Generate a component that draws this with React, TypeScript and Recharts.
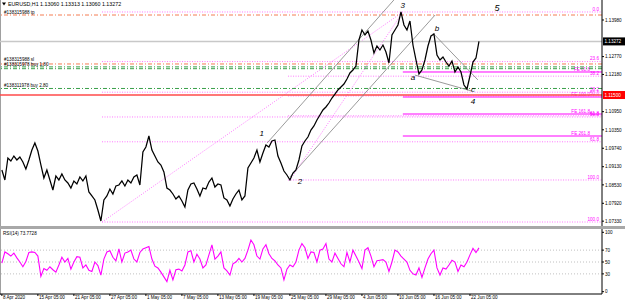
import React from 'react';
import { ComposedChart, LineChart, Line, XAxis, YAxis, ReferenceLine, ReferenceDot } from 'recharts';

// EURUSD H1, one close every 8 bars, starting 8 Apr 2020
const BAR_STEP = 8;

const closePrices = [
  1.09021, 1.08691, 1.09418, 1.09319, 1.09484, 1.09352, 1.09451, 1.09286, 1.09054, 1.09352,
  1.09682, 1.09914, 1.09649, 1.09187, 1.08757, 1.09021, 1.08691, 1.08360, 1.08823, 1.08691,
  1.08889, 1.08691, 1.08592, 1.08426, 1.08658, 1.08559, 1.08790, 1.08658, 1.08823, 1.08294,
  1.08162, 1.08030, 1.07699, 1.07335, 1.08030, 1.08162, 1.08393, 1.08228, 1.08493, 1.08526,
  1.08658, 1.08493, 1.08691, 1.08592, 1.08790, 1.08856, 1.08526, 1.09616, 1.09782, 1.10145,
  1.09682, 1.09484, 1.09286, 1.09187, 1.08955, 1.08426, 1.08360, 1.08228, 1.08063, 1.08162,
  1.07997, 1.07798, 1.08360, 1.08559, 1.08592, 1.08393, 1.08162, 1.08426, 1.08393, 1.08624,
  1.08757, 1.08460, 1.08559, 1.08526, 1.08096, 1.08030, 1.07831, 1.08063, 1.08228, 1.08360,
  1.08030, 1.08162, 1.09087, 1.09253, 1.09418, 1.09682, 1.09286, 1.09583, 1.09848, 1.09782,
  1.09980, 1.10013, 1.09484, 1.09253, 1.08988, 1.08856, 1.08691, 1.08922, 1.09021, 1.09352,
  1.09815, 1.09980, 1.10112, 1.10343, 1.10476, 1.10674, 1.10839, 1.11005, 1.11104, 1.11236,
  1.11401, 1.11533, 1.11666, 1.11765, 1.11864, 1.12030, 1.12228, 1.12327, 1.12459, 1.13319,
  1.13649, 1.13484, 1.13616, 1.13319, 1.12889, 1.13120, 1.12988, 1.13153, 1.12922, 1.12558,
  1.13484, 1.13649, 1.13815, 1.14245, 1.13815, 1.13649, 1.13947, 1.13153, 1.12658, 1.12195,
  1.12327, 1.12658, 1.13120, 1.13451, 1.13517, 1.12823, 1.12658, 1.12757, 1.12591, 1.12459,
  1.12625, 1.12261, 1.12426, 1.12261, 1.11831, 1.11699, 1.12129, 1.12591, 1.12724, 1.13272,
];

const rsiValues = [
  48, 67, 64, 60, 65, 57, 50, 42, 51, 66,
  67, 66, 60, 26, 39, 36, 42, 37, 33, 45,
  58, 50, 56, 38, 50, 59, 58, 40, 45, 36,
  34, 50, 44, 28, 55, 67, 69, 58, 52, 72,
  50, 65, 67, 70, 55, 50, 66, 72, 74, 76,
  55, 43, 40, 33, 25, 17, 36, 20, 37, 38,
  35, 45, 67, 69, 50, 63, 55, 40, 45, 62,
  79, 55, 60, 67, 40, 35, 28, 47, 50, 56,
  50, 56, 70, 87, 79, 60, 55, 72, 79, 64,
  56, 52, 45, 40, 20, 38, 45, 42, 50, 70,
  81, 74, 56, 67, 66, 50, 70, 72, 81, 55,
  50, 65, 56, 47, 42, 66, 50, 70, 60, 50,
  39, 70, 74, 60, 42, 52, 53, 54, 50, 34,
  50, 70, 67, 60, 55, 50, 36, 30, 28, 40,
  24, 40, 55, 64, 70, 40, 28, 40, 38, 45,
  53, 50, 34, 45, 42, 50, 62, 73, 66, 73.7728,
];

const dateBars = [0, 96, 192, 288, 384, 480, 576, 672, 768, 864, 960, 1056, 1152, 1248];
const dateLabels = [
  '8 Apr 2020', '15 Apr 05:00', '21 Apr 05:00', '27 Apr 05:00', '1 May 05:00', '7 May 05:00',
  '13 May 05:00', '19 May 05:00', '25 May 05:00', '29 May 05:00', '4 Jun 05:00', '10 Jun 05:00',
  '16 Jun 05:00', '22 Jun 05:00',
];

const priceTicks = [1.0733, 1.0792, 1.0853, 1.0913, 1.0974, 1.1035, 1.1095, 1.1218, 1.1277, 1.1398];
const rsiTicks = [0, 30, 50, 70, 100];
const rsiLevels = [30, 50, 70];

// trade lines
const bidPrice = 1.13272;
const stopPrice = 1.115;
const tpSlPrices = [1.14145, 1.12526];
const tpSlNames = ['#138315988 tp', '#138315988 sl'];
const buyPrices = [1.1243, 1.1237, 1.11716];
const buyNames = ['#138315978 buy 1.80', '', '#138311978 buy 2.80'];

// fibo retracement from 24 Apr low, and from wave 2
const fibAStart = 267;
const fibAPrices = [1.14245, 1.12606, 1.11593, 1.10774, 1.09954, 1.07302];
const fibANames = ['0.0', '23.6', '38.2', '50.0', '61.8', '100.0'];
const fibBStart = 763;
const fibBPrices = [1.12123, 1.11468, 1.10813, 1.08691];
const fibBNames = ['38.2', '50.0', '61.8', '100.0'];

// fibo expansion from wave 3 top
const feStart = 1069;
const fePrices = [1.12261, 1.11434, 1.10872, 1.10145];
const feNames = ['FE 61.8', 'FE 100.0', 'FE 161.8', 'FE 261.8'];

// trend lines [bar1, price1, bar2, price2]
const channelLines = [
  [707, 1.0991, 1045, 1.1464],
  [768, 1.0879, 1155, 1.14145],
  [1149, 1.1355, 1269, 1.12],
  [1101, 1.1216, 1253, 1.1163],
];
const fiboDiagonals = [
  [267, 1.0730, 1069, 1.14245],
  [768, 1.0869, 1069, 1.14245],
];

const waveNames = ['1', '2', '3', '4', '5', 'a', 'b', 'c'];
const waveBars = [693, 795, 1069, 1256, 1320, 1096, 1160, 1256];
const wavePrices = [1.10244, 1.08657, 1.14476, 1.11302, 1.14377, 1.12096, 1.13715, 1.11699];

const BAR_END = 1600;
const FONT = '"Liberation Sans", Arial, sans-serif';
const SMALL = 4.6;
const PINK = '#ff00ff';
const PINK_DOT = '#ff55ff';

const chartData = closePrices.map((c, i) => ({ bar: i * BAR_STEP, close: c, rsi: rsiValues[i] }));

const LineTag = ({ viewBox, text, side, color, inset = 6, lift = 1.2 }: any) => {
  if (!viewBox || !text) return null;
  const left = side === 'left';
  const x = left ? viewBox.x + inset : viewBox.x + viewBox.width - inset;
  return (
    <text x={x} y={viewBox.y - lift} fontSize={SMALL} fill={color} fontFamily={FONT}
      textAnchor={left ? 'start' : 'end'}>
      {text}
    </text>
  );
};

const PriceBox = ({ viewBox, text, bg }: any) => {
  if (!viewBox) return null;
  const x = viewBox.x + viewBox.width + 1;
  return (
    <g>
      <rect x={x} y={viewBox.y - 4} width={22} height={8} fill={bg} />
      <text x={x + 1.5} y={viewBox.y + 1.7} fontSize={SMALL} fill="#fff" fontFamily={FONT}>{text}</text>
    </g>
  );
};

const DateTick = ({ x, y, payload }: any) => {
  const idx = dateBars.indexOf(payload.value);
  return (
    <text x={x + 1} y={y + 3.2} fontSize={SMALL} fill="#000" fontFamily={FONT}>
      {dateLabels[idx]}
    </text>
  );
};

const RightTick = ({ x, y, payload, digits }: any) => (
  <text x={x} y={y + 1.7} fontSize={SMALL} fill="#000" fontFamily={FONT}>
    {digits ? payload.value.toFixed(digits) : payload.value}
  </text>
);

export default function App() {
  return (
    <div style={{ position: 'absolute', left: 0, top: 0, width: 625, height: 304, background: '#fff', overflow: 'hidden' }}>
      <div style={{ position: 'absolute', left: 0, top: 0, width: 1, height: 295, background: '#a0a0a0' }} />
      <div style={{ position: 'absolute', left: 0, top: 0 }}>
        <ComposedChart width={625} height={226} data={chartData} margin={{ top: 0, right: 0, bottom: 0, left: 0 }}>
          <XAxis type="number" dataKey="bar" domain={[-5, BAR_END]} allowDataOverflow hide />
          <YAxis orientation="right" width={23} type="number" domain={[1.0717, 1.14641]} allowDataOverflow
            ticks={priceTicks} interval={0} tickSize={2} tickMargin={1}
            axisLine={{ stroke: '#000' }} tickLine={{ stroke: '#000' }}
            tick={<RightTick digits={5} />} />

          {fibAPrices.map((p, i) => (
            <ReferenceLine key={`fa${i}`} segment={[{ x: fibAStart, y: p }, { x: BAR_END, y: p }]}
              stroke={PINK_DOT} strokeDasharray="1 1.5" strokeWidth={0.8}
              label={<LineTag text={fibANames[i]} side="right" color={PINK} inset={3} />} />
          ))}
          {fibBPrices.map((p, i) => (
            <ReferenceLine key={`fb${i}`} segment={[{ x: fibBStart, y: p }, { x: BAR_END, y: p }]}
              stroke={PINK_DOT} strokeDasharray="1 1.5" strokeWidth={0.8}
              label={<LineTag text={fibBNames[i]} side="right" color={PINK} inset={3} />} />
          ))}
          {fePrices.map((p, i) => (
            <ReferenceLine key={`fe${i}`} segment={[{ x: feStart, y: p }, { x: BAR_END, y: p }]}
              stroke={PINK} strokeWidth={1}
              label={<LineTag text={feNames[i]} side="right" color={PINK} inset={12} />} />
          ))}
          {fiboDiagonals.map((l, i) => (
            <ReferenceLine key={`fd${i}`} segment={[{ x: l[0], y: l[1] }, { x: l[2], y: l[3] }]}
              stroke={PINK_DOT} strokeDasharray="1 1.5" strokeWidth={0.8} />
          ))}

          <ReferenceLine y={bidPrice} stroke="#c8c8c8" strokeWidth={1.5}
            label={<PriceBox text={bidPrice.toFixed(5)} bg="#000" />} />
          {tpSlPrices.map((p, i) => (
            <ReferenceLine key={`ts${i}`} y={p} stroke="#f47c52" strokeDasharray="4 2 1 2" strokeWidth={1}
              label={<LineTag text={tpSlNames[i]} side="left" color="#000" inset={4} lift={i === 1 ? 3.2 : 1.2} />} />
          ))}
          {buyPrices.map((p, i) => (
            <ReferenceLine key={`b${i}`} y={p} stroke="#3aa04a" strokeDasharray="4 2 1 2" strokeWidth={1}
              label={<LineTag text={buyNames[i]} side="left" color="#000" inset={4} lift={i === 0 ? 0.6 : 1.2} />} />
          ))}
          <ReferenceLine y={stopPrice} stroke="#ff4a4a" strokeWidth={1.5}
            label={<PriceBox text={stopPrice.toFixed(5)} bg="#ff0000" />} />

          {channelLines.map((l, i) => (
            <ReferenceLine key={`ch${i}`} segment={[{ x: l[0], y: l[1] }, { x: l[2], y: l[3] }]}
              stroke="#808080" strokeWidth={0.8} />
          ))}

          <Line type="linear" dataKey="close" stroke="#000" strokeWidth={1.25} dot={false} isAnimationActive={false} />

          {waveNames.map((n, i) => (
            <ReferenceDot key={`w${i}`} x={waveBars[i]} y={wavePrices[i]} r={0}
              shape={(p: any) => (
                <text x={p.cx} y={p.cy + 3} fontSize={i === 4 ? 9 : 8} fontStyle="italic" fill="#000"
                  fontFamily={FONT} textAnchor="middle">{n}</text>
              )} />
          ))}
        </ComposedChart>
      </div>

      <div style={{ position: 'absolute', left: 0, top: 226, width: 625, height: 3, background: '#a8a8a8' }} />

      <div style={{ position: 'absolute', left: 0, top: 229 }}>
        <LineChart width={625} height={75} data={chartData} margin={{ top: 0, right: 0, bottom: 0, left: 0 }}>
          <XAxis type="number" dataKey="bar" domain={[-5, BAR_END]} allowDataOverflow
            ticks={dateBars} interval={0} height={10} tickSize={2} tickMargin={0}
            axisLine={{ stroke: '#000' }} tickLine={{ stroke: '#000' }} tick={<DateTick />} />
          <YAxis orientation="right" width={23} type="number" domain={[-3.9, 105.6]} allowDataOverflow
            ticks={rsiTicks} interval={0} tickSize={2} tickMargin={1}
            axisLine={{ stroke: '#000' }} tickLine={{ stroke: '#000' }} tick={<RightTick />} />
          {rsiLevels.map((v) => (
            <ReferenceLine key={v} y={v} stroke="#b0b0b0" strokeDasharray="1 2" strokeWidth={0.8} />
          ))}
          <Line type="linear" dataKey="rsi" stroke={PINK} strokeWidth={1.1} dot={false} isAnimationActive={false} />
        </LineChart>
      </div>

      <svg style={{ position: 'absolute', left: 0, top: 0 }} width={625} height={304}>
        <polygon points="2,2.5 6,2.5 4,5.5" fill="#000" />
        <text x={8} y={6} fontSize={5.3} fill="#000" fontFamily={FONT}>EURUSD,H1  1.13060 1.13313 1.13060 1.13272</text>
        <text x={3} y={235} fontSize={SMALL} fill="#000" fontFamily={FONT}>RSI(14) 73.7728</text>
      </svg>
    </div>
  );
}
